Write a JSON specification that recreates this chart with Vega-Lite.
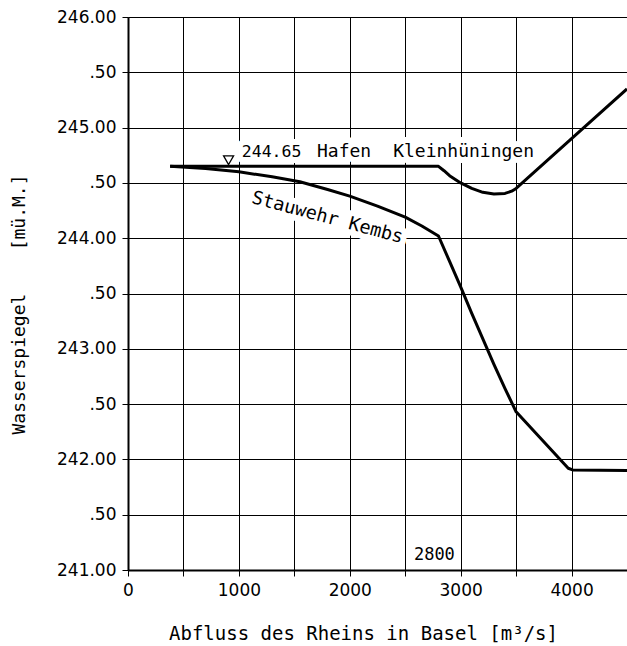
{
  "$schema": "https://vega.github.io/schema/vega-lite/v6.json",
  "width": 499,
  "height": 553,
  "autosize": {"type": "none"},
  "padding": {"left": 128, "top": 17, "right": 0, "bottom": 76},
  "background": "white",
  "config": {"view": {"stroke": null}, "font": "DejaVu Sans"},
  "datasets": {
    "curves": [
      {"series": "Hafen Kleinhüningen", "q": 380, "h": 244.65},
      {"series": "Hafen Kleinhüningen", "q": 2800, "h": 244.65},
      {"series": "Hafen Kleinhüningen", "q": 2850, "h": 244.61},
      {"series": "Hafen Kleinhüningen", "q": 2900, "h": 244.565},
      {"series": "Hafen Kleinhüningen", "q": 3000, "h": 244.5},
      {"series": "Hafen Kleinhüningen", "q": 3100, "h": 244.45},
      {"series": "Hafen Kleinhüningen", "q": 3200, "h": 244.415},
      {"series": "Hafen Kleinhüningen", "q": 3300, "h": 244.4},
      {"series": "Hafen Kleinhüningen", "q": 3400, "h": 244.405},
      {"series": "Hafen Kleinhüningen", "q": 3460, "h": 244.425},
      {"series": "Hafen Kleinhüningen", "q": 3500, "h": 244.45},
      {"series": "Hafen Kleinhüningen", "q": 4000, "h": 244.9},
      {"series": "Hafen Kleinhüningen", "q": 4500, "h": 245.35},
      {"series": "Stauwehr Kembs", "q": 380, "h": 244.65},
      {"series": "Stauwehr Kembs", "q": 700, "h": 244.63},
      {"series": "Stauwehr Kembs", "q": 1000, "h": 244.6},
      {"series": "Stauwehr Kembs", "q": 1300, "h": 244.555},
      {"series": "Stauwehr Kembs", "q": 1550, "h": 244.51},
      {"series": "Stauwehr Kembs", "q": 1800, "h": 244.44},
      {"series": "Stauwehr Kembs", "q": 2000, "h": 244.38},
      {"series": "Stauwehr Kembs", "q": 2250, "h": 244.29},
      {"series": "Stauwehr Kembs", "q": 2500, "h": 244.19},
      {"series": "Stauwehr Kembs", "q": 2650, "h": 244.11},
      {"series": "Stauwehr Kembs", "q": 2800, "h": 244.02},
      {"series": "Stauwehr Kembs", "q": 2900, "h": 243.79},
      {"series": "Stauwehr Kembs", "q": 3000, "h": 243.56},
      {"series": "Stauwehr Kembs", "q": 3100, "h": 243.32},
      {"series": "Stauwehr Kembs", "q": 3200, "h": 243.09},
      {"series": "Stauwehr Kembs", "q": 3300, "h": 242.86},
      {"series": "Stauwehr Kembs", "q": 3400, "h": 242.64},
      {"series": "Stauwehr Kembs", "q": 3500, "h": 242.43},
      {"series": "Stauwehr Kembs", "q": 3970, "h": 241.92},
      {"series": "Stauwehr Kembs", "q": 4010, "h": 241.905},
      {"series": "Stauwehr Kembs", "q": 4500, "h": 241.9}
    ],
    "toplabels": [
      {"q": 1026, "h": 244.735, "label": "244.65", "size": 16.5},
      {"q": 1704, "h": 244.735, "label": "Hafen", "size": 18},
      {"q": 2391, "h": 244.735, "label": "Kleinhüningen", "size": 18}
    ],
    "kembs": [{"q": 1800, "h": 244.19, "label": "Stauwehr Kembs"}],
    "mark2800": [{"q": 2763, "h": 241.092, "label": "2800"}]
  },
  "encoding": {
    "x": {
      "field": "q",
      "type": "quantitative",
      "scale": {"domain": [0, 4500], "nice": false, "zero": false},
      "axis": {
        "values": [0, 500, 1000, 1500, 2000, 2500, 3000, 3500, 4000, 4500],
        "labelExpr": "datum.value % 1000 == 0 && datum.value < 4500 ? format(datum.value, 'd') : ''",
        "labelFlush": false,
        "labelOverlap": false,
        "labelFontSize": 17,
        "labelColor": "black",
        "labelPadding": 6,
        "tickSize": 6,
        "tickColor": "black",
        "tickWidth": 1,
        "domainColor": "black",
        "domainWidth": 2,
        "grid": true,
        "gridColor": "black",
        "gridWidth": 1,
        "gridOpacity": 1,
        "title": "Abfluss des Rheins in Basel [m³/s]",
        "titleFont": "DejaVu Sans Mono",
        "titleFontSize": 19,
        "titleFontWeight": "normal",
        "titleColor": "black",
        "titleX": 235,
        "titleY": 69,
        "titleAlign": "center",
        "titleBaseline": "alphabetic"
      }
    },
    "y": {
      "field": "h",
      "type": "quantitative",
      "scale": {"domain": [241, 246], "nice": false, "zero": false},
      "axis": {
        "values": [241, 241.5, 242, 242.5, 243, 243.5, 244, 244.5, 245, 245.5, 246],
        "labelExpr": "datum.value % 1 == 0 ? format(datum.value, '.2f') : '.50'",
        "labelFlush": false,
        "labelOverlap": false,
        "labelFontSize": 17,
        "labelColor": "black",
        "labelPadding": 6,
        "tickSize": 6,
        "tickColor": "black",
        "tickWidth": 1,
        "domainColor": "black",
        "domainWidth": 2,
        "grid": true,
        "gridColor": "black",
        "gridWidth": 1,
        "gridOpacity": 1,
        "title": "Wasserspiegel\u00a0\u00a0\u00a0\u00a0[mü.M.]",
        "titleFont": "DejaVu Sans Mono",
        "titleFontSize": 18,
        "titleFontWeight": "normal",
        "titleColor": "black",
        "titleX": -100,
        "titleY": 287,
        "titleAlign": "center",
        "titleBaseline": "bottom"
      }
    }
  },
  "layer": [
    {
      "data": {"values": [{"q": 2800}]},
      "mark": {"type": "rule", "stroke": "black", "strokeWidth": 1},
      "encoding": {"y": {"datum": 241}, "y2": {"datum": 246}}
    },
    {
      "data": {"name": "toplabels"},
      "mark": {"type": "text", "align": "left", "baseline": "alphabetic", "font": "DejaVu Sans Mono", "stroke": "white", "strokeWidth": 12, "strokeJoin": "round", "color": "white"},
      "encoding": {"text": {"field": "label"}, "size": {"field": "size", "type": "quantitative", "scale": null}}
    },
    {
      "data": {"name": "kembs"},
      "mark": {"type": "text", "align": "center", "baseline": "middle", "angle": 15, "fontSize": 18.5, "font": "DejaVu Sans Mono", "stroke": "white", "strokeWidth": 12, "strokeJoin": "round", "color": "white"},
      "encoding": {"text": {"field": "label"}}
    },
    {
      "data": {"name": "mark2800"},
      "mark": {"type": "text", "align": "center", "baseline": "alphabetic", "fontSize": 17, "font": "DejaVu Sans Mono", "stroke": "white", "strokeWidth": 10, "strokeJoin": "round", "color": "white"},
      "encoding": {"text": {"field": "label"}}
    },
    {
      "data": {"name": "curves"},
      "mark": {"type": "line", "stroke": "black", "strokeWidth": 3, "strokeJoin": "round"},
      "encoding": {"detail": {"field": "series"}, "order": {"field": "q"}}
    },
    {
      "data": {"values": [{"q": 907, "h": 244.705}]},
      "mark": {"type": "point", "shape": "triangle-down", "size": 100, "filled": false, "stroke": "black", "strokeWidth": 1.3, "opacity": 1}
    },
    {
      "data": {"name": "toplabels"},
      "mark": {"type": "text", "align": "left", "baseline": "alphabetic", "font": "DejaVu Sans Mono", "color": "black"},
      "encoding": {"text": {"field": "label"}, "size": {"field": "size", "type": "quantitative", "scale": null}}
    },
    {
      "data": {"name": "kembs"},
      "mark": {"type": "text", "align": "center", "baseline": "middle", "angle": 15, "fontSize": 18.5, "font": "DejaVu Sans Mono", "color": "black"},
      "encoding": {"text": {"field": "label"}}
    },
    {
      "data": {"name": "mark2800"},
      "mark": {"type": "text", "align": "center", "baseline": "alphabetic", "fontSize": 17, "font": "DejaVu Sans Mono", "color": "black"},
      "encoding": {"text": {"field": "label"}}
    }
  ]
}
